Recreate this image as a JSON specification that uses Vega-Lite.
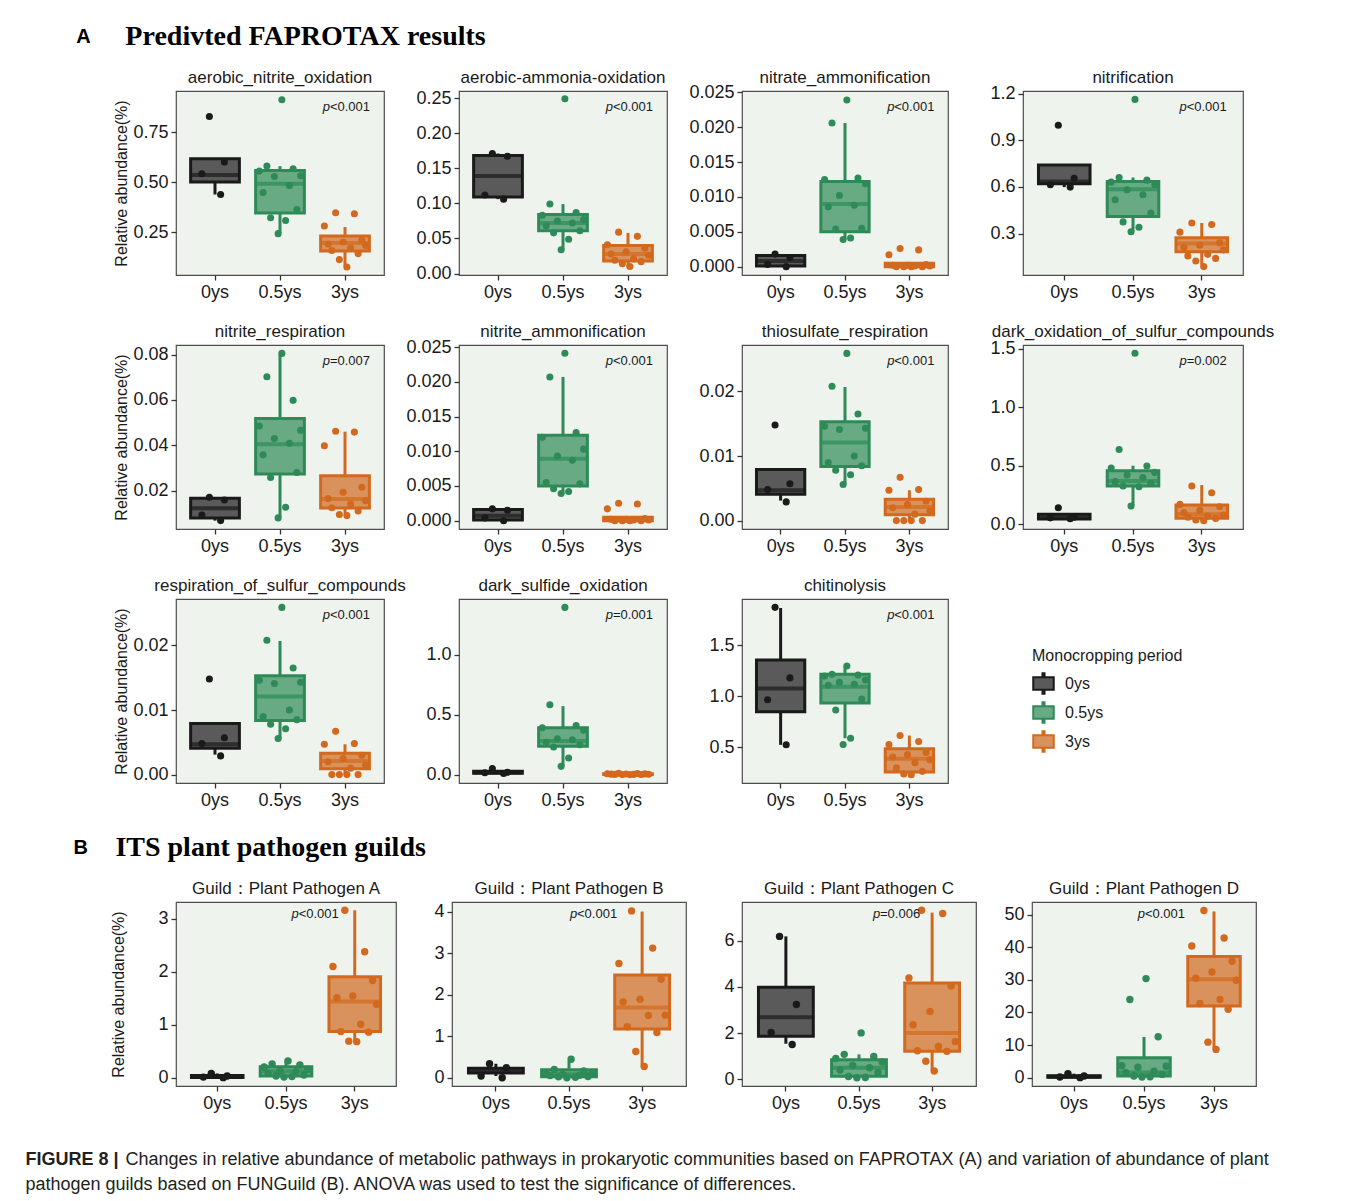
{
"$schema":"https://vega.github.io/schema/vega-lite/v6.json",
"background":"white",
"padding":{"left":25,"top":23,"right":5,"bottom":5},
"title":{"text":"FIGURE 8 |","subtitle":["\u200b\u00a0\u00a0\u00a0\u00a0\u00a0\u00a0\u00a0\u00a0\u00a0\u00a0\u00a0\u00a0\u00a0\u00a0\u00a0\u00a0\u00a0\u00a0\u00a0\u00a0Changes in relative abundance of metabolic pathways in prokaryotic communities based on FAPROTAX (A) and variation of abundance of plant","pathogen guilds based on FUNGuild (B). ANOVA was used to test the significance of differences."],"orient":"bottom","anchor":"start","dx":-48,"offset":38,"font":"Liberation Sans","fontSize":18,"fontWeight":"bold","color":"#231F20","subtitleFont":"Liberation Sans","subtitleFontSize":18,"subtitleFontWeight":"normal","subtitleColor":"#231F20","subtitlePadding":-18,"subtitleLineHeight":25},
"datasets":{
"box":[
{"p":"P1","g":"0ys","lo":0.438,"q1":0.5,"md":0.535,"q3":0.617,"hi":0.617},
{"p":"P1","g":"0.5ys","lo":0.245,"q1":0.345,"md":0.492,"q3":0.558,"hi":0.58},
{"p":"P1","g":"3ys","lo":0.078,"q1":0.155,"md":0.195,"q3":0.23,"hi":0.275},
{"p":"P2","g":"0ys","lo":0.106,"q1":0.109,"md":0.139,"q3":0.168,"hi":0.171},
{"p":"P2","g":"0.5ys","lo":0.034,"q1":0.061,"md":0.072,"q3":0.084,"hi":0.099},
{"p":"P2","g":"3ys","lo":0.01,"q1":0.018,"md":0.028,"q3":0.04,"hi":0.058},
{"p":"P3","g":"0ys","lo":0,"q1":0.0001,"md":0.0008,"q3":0.0016,"hi":0.0018},
{"p":"P3","g":"0.5ys","lo":0.0039,"q1":0.005,"md":0.009,"q3":0.0122,"hi":0.0206},
{"p":"P3","g":"3ys","lo":0,"q1":0,"md":0.0001,"q3":0.0005,"hi":0.0005},
{"p":"P4","g":"0ys","lo":0.599,"q1":0.62,"md":0.635,"q3":0.742,"hi":0.742},
{"p":"P4","g":"0.5ys","lo":0.315,"q1":0.41,"md":0.586,"q3":0.635,"hi":0.661},
{"p":"P4","g":"3ys","lo":0.098,"q1":0.183,"md":0.236,"q3":0.273,"hi":0.368},
{"p":"P5","g":"0ys","lo":0.0068,"q1":0.008,"md":0.0122,"q3":0.0166,"hi":0.0171},
{"p":"P5","g":"0.5ys","lo":0.0083,"q1":0.0273,"md":0.0405,"q3":0.0518,"hi":0.08},
{"p":"P5","g":"3ys","lo":0.0098,"q1":0.0124,"md":0.0163,"q3":0.0266,"hi":0.046},
{"p":"P6","g":"0ys","lo":0,"q1":0.0001,"md":0.0007,"q3":0.0016,"hi":0.0017},
{"p":"P6","g":"0.5ys","lo":0.0039,"q1":0.005,"md":0.0089,"q3":0.0123,"hi":0.0207},
{"p":"P6","g":"3ys","lo":0,"q1":0,"md":0.0001,"q3":0.0005,"hi":0.0005},
{"p":"P7","g":"0ys","lo":0.0031,"q1":0.0041,"md":0.0047,"q3":0.0079,"hi":0.0079},
{"p":"P7","g":"0.5ys","lo":0.0056,"q1":0.0084,"md":0.0121,"q3":0.0153,"hi":0.0207},
{"p":"P7","g":"3ys","lo":0,"q1":0.0009,"md":0.0021,"q3":0.0033,"hi":0.0047},
{"p":"P8","g":"0ys","lo":0.045,"q1":0.045,"md":0.058,"q3":0.085,"hi":0.085},
{"p":"P8","g":"0.5ys","lo":0.156,"q1":0.327,"md":0.37,"q3":0.457,"hi":0.5},
{"p":"P8","g":"3ys","lo":0.03,"q1":0.051,"md":0.085,"q3":0.165,"hi":0.335},
{"p":"P9","g":"0ys","lo":0.0031,"q1":0.0041,"md":0.0047,"q3":0.0079,"hi":0.0079},
{"p":"P9","g":"0.5ys","lo":0.0056,"q1":0.0084,"md":0.0121,"q3":0.0153,"hi":0.0207},
{"p":"P9","g":"3ys","lo":0,"q1":0.0009,"md":0.0021,"q3":0.0033,"hi":0.0047},
{"p":"P10","g":"0ys","lo":0.01,"q1":0.012,"md":0.018,"q3":0.028,"hi":0.028},
{"p":"P10","g":"0.5ys","lo":0.07,"q1":0.236,"md":0.28,"q3":0.392,"hi":0.572},
{"p":"P10","g":"3ys","lo":0,"q1":0.002,"md":0.004,"q3":0.007,"hi":0.012},
{"p":"P11","g":"0ys","lo":0.526,"q1":0.851,"md":1.078,"q3":1.357,"hi":1.867},
{"p":"P11","g":"0.5ys","lo":0.59,"q1":0.935,"md":1.094,"q3":1.218,"hi":1.299},
{"p":"P11","g":"3ys","lo":0.234,"q1":0.26,"md":0.39,"q3":0.487,"hi":0.617},
{"p":"P12","g":"0ys","lo":0,"q1":0.005,"md":0.02,"q3":0.04,"hi":0.08},
{"p":"P12","g":"0.5ys","lo":0.01,"q1":0.03,"md":0.12,"q3":0.208,"hi":0.315},
{"p":"P12","g":"3ys","lo":0.68,"q1":0.87,"md":1.437,"q3":1.909,"hi":3.163},
{"p":"P13","g":"0ys","lo":0.04,"q1":0.11,"md":0.18,"q3":0.23,"hi":0.335},
{"p":"P13","g":"0.5ys","lo":0,"q1":0.02,"md":0.08,"q3":0.19,"hi":0.4},
{"p":"P13","g":"3ys","lo":0.27,"q1":1.17,"md":1.69,"q3":2.47,"hi":4.0},
{"p":"P14","g":"0ys","lo":1.54,"q1":1.87,"md":2.69,"q3":3.99,"hi":6.19},
{"p":"P14","g":"0.5ys","lo":0.07,"q1":0.13,"md":0.5,"q3":0.85,"hi":1.08},
{"p":"P14","g":"3ys","lo":0.39,"q1":1.22,"md":2.01,"q3":4.17,"hi":7.22},
{"p":"P15","g":"0ys","lo":0,"q1":0.1,"md":0.3,"q3":0.6,"hi":1.22},
{"p":"P15","g":"0.5ys","lo":0.2,"q1":0.5,"md":1.6,"q3":6.1,"hi":12.5},
{"p":"P15","g":"3ys","lo":9.0,"q1":22.0,"md":30.2,"q3":37.2,"hi":51.0}
],
"pts":[
{"p":"P1","g":"0ys","v":0.828,"r":5},{"p":"P1","g":"0ys","v":0.6,"r":9},{"p":"P1","g":"0ys","v":0.542,"r":3},{"p":"P1","g":"0ys","v":0.438,"r":8},
{"p":"P1","g":"0.5ys","v":0.912,"r":7},{"p":"P1","g":"0.5ys","v":0.58,"r":3},{"p":"P1","g":"0.5ys","v":0.567,"r":10},{"p":"P1","g":"0.5ys","v":0.555,"r":1},{"p":"P1","g":"0.5ys","v":0.532,"r":12},{"p":"P1","g":"0.5ys","v":0.528,"r":5},{"p":"P1","g":"0.5ys","v":0.483,"r":9},{"p":"P1","g":"0.5ys","v":0.448,"r":2},{"p":"P1","g":"0.5ys","v":0.363,"r":11},{"p":"P1","g":"0.5ys","v":0.322,"r":4},{"p":"P1","g":"0.5ys","v":0.308,"r":8},{"p":"P1","g":"0.5ys","v":0.242,"r":6},
{"p":"P1","g":"3ys","v":0.347,"r":4},{"p":"P1","g":"3ys","v":0.342,"r":9},{"p":"P1","g":"3ys","v":0.28,"r":1},{"p":"P1","g":"3ys","v":0.21,"r":11},{"p":"P1","g":"3ys","v":0.2,"r":6},{"p":"P1","g":"3ys","v":0.19,"r":2},{"p":"P1","g":"3ys","v":0.183,"r":12},{"p":"P1","g":"3ys","v":0.17,"r":8},{"p":"P1","g":"3ys","v":0.158,"r":3},{"p":"P1","g":"3ys","v":0.142,"r":10},{"p":"P1","g":"3ys","v":0.112,"r":5},{"p":"P1","g":"3ys","v":0.075,"r":7},
{"p":"P2","g":"0ys","v":0.171,"r":5},{"p":"P2","g":"0ys","v":0.167,"r":9},{"p":"P2","g":"0ys","v":0.112,"r":3},{"p":"P2","g":"0ys","v":0.106,"r":8},
{"p":"P2","g":"0.5ys","v":0.249,"r":7},{"p":"P2","g":"0.5ys","v":0.099,"r":3},{"p":"P2","g":"0.5ys","v":0.087,"r":10},{"p":"P2","g":"0.5ys","v":0.083,"r":1},{"p":"P2","g":"0.5ys","v":0.077,"r":12},{"p":"P2","g":"0.5ys","v":0.075,"r":5},{"p":"P2","g":"0.5ys","v":0.072,"r":9},{"p":"P2","g":"0.5ys","v":0.068,"r":2},{"p":"P2","g":"0.5ys","v":0.061,"r":11},{"p":"P2","g":"0.5ys","v":0.058,"r":4},{"p":"P2","g":"0.5ys","v":0.049,"r":8},{"p":"P2","g":"0.5ys","v":0.034,"r":6},
{"p":"P2","g":"3ys","v":0.059,"r":4},{"p":"P2","g":"3ys","v":0.053,"r":9},{"p":"P2","g":"3ys","v":0.041,"r":1},{"p":"P2","g":"3ys","v":0.036,"r":11},{"p":"P2","g":"3ys","v":0.031,"r":6},{"p":"P2","g":"3ys","v":0.028,"r":2},{"p":"P2","g":"3ys","v":0.026,"r":12},{"p":"P2","g":"3ys","v":0.021,"r":8},{"p":"P2","g":"3ys","v":0.019,"r":3},{"p":"P2","g":"3ys","v":0.017,"r":10},{"p":"P2","g":"3ys","v":0.014,"r":5},{"p":"P2","g":"3ys","v":0.01,"r":7},
{"p":"P3","g":"0ys","v":0.0018,"r":5},{"p":"P3","g":"0ys","v":0.0013,"r":9},{"p":"P3","g":"0ys","v":0.0003,"r":3},{"p":"P3","g":"0ys","v":0,"r":8},
{"p":"P3","g":"0.5ys","v":0.0239,"r":7},{"p":"P3","g":"0.5ys","v":0.0206,"r":3},{"p":"P3","g":"0.5ys","v":0.0127,"r":10},{"p":"P3","g":"0.5ys","v":0.0125,"r":1},{"p":"P3","g":"0.5ys","v":0.0119,"r":12},{"p":"P3","g":"0.5ys","v":0.0102,"r":5},{"p":"P3","g":"0.5ys","v":0.0088,"r":9},{"p":"P3","g":"0.5ys","v":0.0086,"r":2},{"p":"P3","g":"0.5ys","v":0.0055,"r":11},{"p":"P3","g":"0.5ys","v":0.0054,"r":4},{"p":"P3","g":"0.5ys","v":0.0041,"r":8},{"p":"P3","g":"0.5ys","v":0.0039,"r":6},
{"p":"P3","g":"3ys","v":0.0026,"r":4},{"p":"P3","g":"3ys","v":0.0024,"r":9},{"p":"P3","g":"3ys","v":0.0017,"r":1},{"p":"P3","g":"3ys","v":0.0003,"r":11},{"p":"P3","g":"3ys","v":0.0002,"r":6},{"p":"P3","g":"3ys","v":0.0002,"r":2},{"p":"P3","g":"3ys","v":0.0001,"r":12},{"p":"P3","g":"3ys","v":0.0001,"r":8},{"p":"P3","g":"3ys","v":0,"r":3},{"p":"P3","g":"3ys","v":0,"r":10},{"p":"P3","g":"3ys","v":0,"r":5},{"p":"P3","g":"3ys","v":0,"r":7},
{"p":"P4","g":"0ys","v":0.997,"r":5},{"p":"P4","g":"0ys","v":0.656,"r":9},{"p":"P4","g":"0ys","v":0.614,"r":3},{"p":"P4","g":"0ys","v":0.599,"r":8},
{"p":"P4","g":"0.5ys","v":1.164,"r":7},{"p":"P4","g":"0.5ys","v":0.661,"r":3},{"p":"P4","g":"0.5ys","v":0.644,"r":10},{"p":"P4","g":"0.5ys","v":0.631,"r":1},{"p":"P4","g":"0.5ys","v":0.614,"r":12},{"p":"P4","g":"0.5ys","v":0.582,"r":5},{"p":"P4","g":"0.5ys","v":0.55,"r":9},{"p":"P4","g":"0.5ys","v":0.518,"r":2},{"p":"P4","g":"0.5ys","v":0.432,"r":11},{"p":"P4","g":"0.5ys","v":0.375,"r":4},{"p":"P4","g":"0.5ys","v":0.341,"r":8},{"p":"P4","g":"0.5ys","v":0.311,"r":6},
{"p":"P4","g":"3ys","v":0.368,"r":4},{"p":"P4","g":"3ys","v":0.358,"r":9},{"p":"P4","g":"3ys","v":0.309,"r":1},{"p":"P4","g":"3ys","v":0.24,"r":11},{"p":"P4","g":"3ys","v":0.225,"r":6},{"p":"P4","g":"3ys","v":0.21,"r":2},{"p":"P4","g":"3ys","v":0.195,"r":12},{"p":"P4","g":"3ys","v":0.166,"r":8},{"p":"P4","g":"3ys","v":0.155,"r":3},{"p":"P4","g":"3ys","v":0.14,"r":10},{"p":"P4","g":"3ys","v":0.123,"r":5},{"p":"P4","g":"3ys","v":0.087,"r":7},
{"p":"P5","g":"0ys","v":0.0171,"r":5},{"p":"P5","g":"0ys","v":0.0159,"r":9},{"p":"P5","g":"0ys","v":0.0093,"r":3},{"p":"P5","g":"0ys","v":0.0068,"r":8},
{"p":"P5","g":"0.5ys","v":0.0805,"r":7},{"p":"P5","g":"0.5ys","v":0.0702,"r":3},{"p":"P5","g":"0.5ys","v":0.0598,"r":10},{"p":"P5","g":"0.5ys","v":0.0485,"r":1},{"p":"P5","g":"0.5ys","v":0.0466,"r":12},{"p":"P5","g":"0.5ys","v":0.043,"r":5},{"p":"P5","g":"0.5ys","v":0.0409,"r":9},{"p":"P5","g":"0.5ys","v":0.0358,"r":2},{"p":"P5","g":"0.5ys","v":0.028,"r":11},{"p":"P5","g":"0.5ys","v":0.0258,"r":4},{"p":"P5","g":"0.5ys","v":0.0127,"r":8},{"p":"P5","g":"0.5ys","v":0.008,"r":6},
{"p":"P5","g":"3ys","v":0.0462,"r":4},{"p":"P5","g":"3ys","v":0.0458,"r":9},{"p":"P5","g":"3ys","v":0.0398,"r":1},{"p":"P5","g":"3ys","v":0.0215,"r":11},{"p":"P5","g":"3ys","v":0.0193,"r":6},{"p":"P5","g":"3ys","v":0.0165,"r":2},{"p":"P5","g":"3ys","v":0.0155,"r":12},{"p":"P5","g":"3ys","v":0.0141,"r":8},{"p":"P5","g":"3ys","v":0.0125,"r":3},{"p":"P5","g":"3ys","v":0.011,"r":10},{"p":"P5","g":"3ys","v":0.0095,"r":5},{"p":"P5","g":"3ys","v":0.009,"r":7},
{"p":"P6","g":"0ys","v":0.0017,"r":5},{"p":"P6","g":"0ys","v":0.0015,"r":9},{"p":"P6","g":"0ys","v":0.0004,"r":3},{"p":"P6","g":"0ys","v":0,"r":8},
{"p":"P6","g":"0.5ys","v":0.0241,"r":7},{"p":"P6","g":"0.5ys","v":0.0207,"r":3},{"p":"P6","g":"0.5ys","v":0.0127,"r":10},{"p":"P6","g":"0.5ys","v":0.012,"r":1},{"p":"P6","g":"0.5ys","v":0.0103,"r":12},{"p":"P6","g":"0.5ys","v":0.0093,"r":5},{"p":"P6","g":"0.5ys","v":0.0087,"r":9},{"p":"P6","g":"0.5ys","v":0.0055,"r":2},{"p":"P6","g":"0.5ys","v":0.0053,"r":11},{"p":"P6","g":"0.5ys","v":0.0046,"r":4},{"p":"P6","g":"0.5ys","v":0.0042,"r":8},{"p":"P6","g":"0.5ys","v":0.0039,"r":6},
{"p":"P6","g":"3ys","v":0.0025,"r":4},{"p":"P6","g":"3ys","v":0.0024,"r":9},{"p":"P6","g":"3ys","v":0.0017,"r":1},{"p":"P6","g":"3ys","v":0.0003,"r":11},{"p":"P6","g":"3ys","v":0.0002,"r":6},{"p":"P6","g":"3ys","v":0.0002,"r":2},{"p":"P6","g":"3ys","v":0.0001,"r":12},{"p":"P6","g":"3ys","v":0.0001,"r":8},{"p":"P6","g":"3ys","v":0,"r":3},{"p":"P6","g":"3ys","v":0,"r":10},{"p":"P6","g":"3ys","v":0,"r":5},{"p":"P6","g":"3ys","v":0,"r":7},
{"p":"P7","g":"0ys","v":0.0148,"r":5},{"p":"P7","g":"0ys","v":0.0057,"r":9},{"p":"P7","g":"0ys","v":0.0048,"r":3},{"p":"P7","g":"0ys","v":0.0029,"r":8},
{"p":"P7","g":"0.5ys","v":0.0259,"r":7},{"p":"P7","g":"0.5ys","v":0.0208,"r":3},{"p":"P7","g":"0.5ys","v":0.0165,"r":10},{"p":"P7","g":"0.5ys","v":0.0146,"r":1},{"p":"P7","g":"0.5ys","v":0.0143,"r":12},{"p":"P7","g":"0.5ys","v":0.0141,"r":5},{"p":"P7","g":"0.5ys","v":0.01,"r":9},{"p":"P7","g":"0.5ys","v":0.009,"r":2},{"p":"P7","g":"0.5ys","v":0.0085,"r":11},{"p":"P7","g":"0.5ys","v":0.0078,"r":4},{"p":"P7","g":"0.5ys","v":0.0071,"r":8},{"p":"P7","g":"0.5ys","v":0.0056,"r":6},
{"p":"P7","g":"3ys","v":0.0067,"r":4},{"p":"P7","g":"3ys","v":0.0048,"r":9},{"p":"P7","g":"3ys","v":0.0047,"r":1},{"p":"P7","g":"3ys","v":0.003,"r":11},{"p":"P7","g":"3ys","v":0.0025,"r":6},{"p":"P7","g":"3ys","v":0.002,"r":2},{"p":"P7","g":"3ys","v":0.0015,"r":12},{"p":"P7","g":"3ys","v":0.001,"r":8},{"p":"P7","g":"3ys","v":0,"r":3},{"p":"P7","g":"3ys","v":0,"r":10},{"p":"P7","g":"3ys","v":0,"r":5},{"p":"P7","g":"3ys","v":0,"r":7},
{"p":"P8","g":"0ys","v":0.142,"r":5},{"p":"P8","g":"0ys","v":0.06,"r":9},{"p":"P8","g":"0ys","v":0.055,"r":3},{"p":"P8","g":"0ys","v":0.048,"r":8},
{"p":"P8","g":"0.5ys","v":1.46,"r":7},{"p":"P8","g":"0.5ys","v":0.639,"r":3},{"p":"P8","g":"0.5ys","v":0.497,"r":10},{"p":"P8","g":"0.5ys","v":0.48,"r":1},{"p":"P8","g":"0.5ys","v":0.443,"r":12},{"p":"P8","g":"0.5ys","v":0.42,"r":5},{"p":"P8","g":"0.5ys","v":0.4,"r":9},{"p":"P8","g":"0.5ys","v":0.364,"r":2},{"p":"P8","g":"0.5ys","v":0.35,"r":11},{"p":"P8","g":"0.5ys","v":0.327,"r":4},{"p":"P8","g":"0.5ys","v":0.32,"r":8},{"p":"P8","g":"0.5ys","v":0.156,"r":6},
{"p":"P8","g":"3ys","v":0.327,"r":4},{"p":"P8","g":"3ys","v":0.27,"r":9},{"p":"P8","g":"3ys","v":0.17,"r":1},{"p":"P8","g":"3ys","v":0.15,"r":11},{"p":"P8","g":"3ys","v":0.12,"r":6},{"p":"P8","g":"3ys","v":0.1,"r":2},{"p":"P8","g":"3ys","v":0.08,"r":12},{"p":"P8","g":"3ys","v":0.07,"r":8},{"p":"P8","g":"3ys","v":0.06,"r":3},{"p":"P8","g":"3ys","v":0.05,"r":10},{"p":"P8","g":"3ys","v":0.037,"r":5},{"p":"P8","g":"3ys","v":0.03,"r":7},
{"p":"P9","g":"0ys","v":0.0148,"r":5},{"p":"P9","g":"0ys","v":0.0057,"r":9},{"p":"P9","g":"0ys","v":0.0048,"r":3},{"p":"P9","g":"0ys","v":0.0029,"r":8},
{"p":"P9","g":"0.5ys","v":0.0259,"r":7},{"p":"P9","g":"0.5ys","v":0.0208,"r":3},{"p":"P9","g":"0.5ys","v":0.0165,"r":10},{"p":"P9","g":"0.5ys","v":0.0146,"r":1},{"p":"P9","g":"0.5ys","v":0.0143,"r":12},{"p":"P9","g":"0.5ys","v":0.0141,"r":5},{"p":"P9","g":"0.5ys","v":0.01,"r":9},{"p":"P9","g":"0.5ys","v":0.009,"r":2},{"p":"P9","g":"0.5ys","v":0.0085,"r":11},{"p":"P9","g":"0.5ys","v":0.0078,"r":4},{"p":"P9","g":"0.5ys","v":0.0071,"r":8},{"p":"P9","g":"0.5ys","v":0.0056,"r":6},
{"p":"P9","g":"3ys","v":0.0067,"r":4},{"p":"P9","g":"3ys","v":0.0048,"r":9},{"p":"P9","g":"3ys","v":0.0047,"r":1},{"p":"P9","g":"3ys","v":0.003,"r":11},{"p":"P9","g":"3ys","v":0.0025,"r":6},{"p":"P9","g":"3ys","v":0.002,"r":2},{"p":"P9","g":"3ys","v":0.0015,"r":12},{"p":"P9","g":"3ys","v":0.001,"r":8},{"p":"P9","g":"3ys","v":0,"r":3},{"p":"P9","g":"3ys","v":0,"r":10},{"p":"P9","g":"3ys","v":0,"r":5},{"p":"P9","g":"3ys","v":0,"r":7},
{"p":"P10","g":"0ys","v":0.05,"r":5},{"p":"P10","g":"0ys","v":0.02,"r":9},{"p":"P10","g":"0ys","v":0.015,"r":3},{"p":"P10","g":"0ys","v":0.01,"r":8},
{"p":"P10","g":"0.5ys","v":1.397,"r":7},{"p":"P10","g":"0.5ys","v":0.583,"r":3},{"p":"P10","g":"0.5ys","v":0.411,"r":10},{"p":"P10","g":"0.5ys","v":0.392,"r":1},{"p":"P10","g":"0.5ys","v":0.37,"r":12},{"p":"P10","g":"0.5ys","v":0.3,"r":5},{"p":"P10","g":"0.5ys","v":0.292,"r":9},{"p":"P10","g":"0.5ys","v":0.27,"r":2},{"p":"P10","g":"0.5ys","v":0.25,"r":11},{"p":"P10","g":"0.5ys","v":0.231,"r":4},{"p":"P10","g":"0.5ys","v":0.139,"r":8},{"p":"P10","g":"0.5ys","v":0.069,"r":6},
{"p":"P10","g":"3ys","v":0.012,"r":4},{"p":"P10","g":"3ys","v":0.01,"r":9},{"p":"P10","g":"3ys","v":0.008,"r":1},{"p":"P10","g":"3ys","v":0.006,"r":11},{"p":"P10","g":"3ys","v":0.005,"r":6},{"p":"P10","g":"3ys","v":0.004,"r":2},{"p":"P10","g":"3ys","v":0.003,"r":12},{"p":"P10","g":"3ys","v":0.002,"r":8},{"p":"P10","g":"3ys","v":0.002,"r":3},{"p":"P10","g":"3ys","v":0.001,"r":10},{"p":"P10","g":"3ys","v":0,"r":5},{"p":"P10","g":"3ys","v":0,"r":7},
{"p":"P11","g":"0ys","v":1.873,"r":5},{"p":"P11","g":"0ys","v":1.182,"r":9},{"p":"P11","g":"0ys","v":0.968,"r":3},{"p":"P11","g":"0ys","v":0.526,"r":8},
{"p":"P11","g":"0.5ys","v":1.299,"r":7},{"p":"P11","g":"0.5ys","v":1.218,"r":3},{"p":"P11","g":"0.5ys","v":1.21,"r":10},{"p":"P11","g":"0.5ys","v":1.2,"r":1},{"p":"P11","g":"0.5ys","v":1.162,"r":12},{"p":"P11","g":"0.5ys","v":1.14,"r":5},{"p":"P11","g":"0.5ys","v":1.12,"r":9},{"p":"P11","g":"0.5ys","v":1.11,"r":2},{"p":"P11","g":"0.5ys","v":0.974,"r":11},{"p":"P11","g":"0.5ys","v":0.867,"r":4},{"p":"P11","g":"0.5ys","v":0.591,"r":8},{"p":"P11","g":"0.5ys","v":0.529,"r":6},
{"p":"P11","g":"3ys","v":0.617,"r":4},{"p":"P11","g":"3ys","v":0.558,"r":9},{"p":"P11","g":"3ys","v":0.53,"r":1},{"p":"P11","g":"3ys","v":0.45,"r":11},{"p":"P11","g":"3ys","v":0.43,"r":6},{"p":"P11","g":"3ys","v":0.406,"r":2},{"p":"P11","g":"3ys","v":0.38,"r":12},{"p":"P11","g":"3ys","v":0.35,"r":8},{"p":"P11","g":"3ys","v":0.3,"r":3},{"p":"P11","g":"3ys","v":0.266,"r":10},{"p":"P11","g":"3ys","v":0.24,"r":5},{"p":"P11","g":"3ys","v":0.234,"r":7},
{"p":"P12","g":"0ys","v":0.08,"r":5},{"p":"P12","g":"0ys","v":0.03,"r":9},{"p":"P12","g":"0ys","v":0.01,"r":3},{"p":"P12","g":"0ys","v":0,"r":8},
{"p":"P12","g":"0.5ys","v":0.315,"r":7},{"p":"P12","g":"0.5ys","v":0.258,"r":3},{"p":"P12","g":"0.5ys","v":0.24,"r":10},{"p":"P12","g":"0.5ys","v":0.2,"r":1},{"p":"P12","g":"0.5ys","v":0.16,"r":12},{"p":"P12","g":"0.5ys","v":0.13,"r":5},{"p":"P12","g":"0.5ys","v":0.11,"r":9},{"p":"P12","g":"0.5ys","v":0.08,"r":2},{"p":"P12","g":"0.5ys","v":0.05,"r":11},{"p":"P12","g":"0.5ys","v":0.03,"r":4},{"p":"P12","g":"0.5ys","v":0.02,"r":8},{"p":"P12","g":"0.5ys","v":0.01,"r":6},
{"p":"P12","g":"3ys","v":3.163,"r":4},{"p":"P12","g":"3ys","v":2.38,"r":9},{"p":"P12","g":"3ys","v":2.1,"r":1},{"p":"P12","g":"3ys","v":1.834,"r":11},{"p":"P12","g":"3ys","v":1.544,"r":6},{"p":"P12","g":"3ys","v":1.51,"r":2},{"p":"P12","g":"3ys","v":1.386,"r":12},{"p":"P12","g":"3ys","v":1.008,"r":8},{"p":"P12","g":"3ys","v":0.87,"r":3},{"p":"P12","g":"3ys","v":0.86,"r":10},{"p":"P12","g":"3ys","v":0.69,"r":5},{"p":"P12","g":"3ys","v":0.68,"r":7},
{"p":"P13","g":"0ys","v":0.335,"r":5},{"p":"P13","g":"0ys","v":0.24,"r":9},{"p":"P13","g":"0ys","v":0.04,"r":3},{"p":"P13","g":"0ys","v":0,"r":8},
{"p":"P13","g":"0.5ys","v":0.446,"r":7},{"p":"P13","g":"0.5ys","v":0.2,"r":3},{"p":"P13","g":"0.5ys","v":0.16,"r":10},{"p":"P13","g":"0.5ys","v":0.12,"r":1},{"p":"P13","g":"0.5ys","v":0.1,"r":12},{"p":"P13","g":"0.5ys","v":0.08,"r":5},{"p":"P13","g":"0.5ys","v":0.06,"r":9},{"p":"P13","g":"0.5ys","v":0.05,"r":2},{"p":"P13","g":"0.5ys","v":0.03,"r":11},{"p":"P13","g":"0.5ys","v":0.02,"r":4},{"p":"P13","g":"0.5ys","v":0.01,"r":8},{"p":"P13","g":"0.5ys","v":0,"r":6},
{"p":"P13","g":"3ys","v":4.016,"r":4},{"p":"P13","g":"3ys","v":3.12,"r":9},{"p":"P13","g":"3ys","v":2.75,"r":1},{"p":"P13","g":"3ys","v":2.37,"r":11},{"p":"P13","g":"3ys","v":1.89,"r":6},{"p":"P13","g":"3ys","v":1.825,"r":2},{"p":"P13","g":"3ys","v":1.506,"r":12},{"p":"P13","g":"3ys","v":1.5,"r":8},{"p":"P13","g":"3ys","v":1.227,"r":3},{"p":"P13","g":"3ys","v":1.09,"r":10},{"p":"P13","g":"3ys","v":0.63,"r":5},{"p":"P13","g":"3ys","v":0.27,"r":7},
{"p":"P14","g":"0ys","v":6.19,"r":5},{"p":"P14","g":"0ys","v":3.24,"r":9},{"p":"P14","g":"0ys","v":2.03,"r":3},{"p":"P14","g":"0ys","v":1.51,"r":8},
{"p":"P14","g":"0.5ys","v":2.01,"r":7},{"p":"P14","g":"0.5ys","v":1.08,"r":3},{"p":"P14","g":"0.5ys","v":0.99,"r":10},{"p":"P14","g":"0.5ys","v":0.9,"r":1},{"p":"P14","g":"0.5ys","v":0.75,"r":12},{"p":"P14","g":"0.5ys","v":0.6,"r":5},{"p":"P14","g":"0.5ys","v":0.5,"r":9},{"p":"P14","g":"0.5ys","v":0.4,"r":2},{"p":"P14","g":"0.5ys","v":0.3,"r":11},{"p":"P14","g":"0.5ys","v":0.12,"r":4},{"p":"P14","g":"0.5ys","v":0.08,"r":8},{"p":"P14","g":"0.5ys","v":0.07,"r":6},
{"p":"P14","g":"3ys","v":7.32,"r":4},{"p":"P14","g":"3ys","v":7.18,"r":9},{"p":"P14","g":"3ys","v":4.39,"r":1},{"p":"P14","g":"3ys","v":4.04,"r":11},{"p":"P14","g":"3ys","v":2.94,"r":6},{"p":"P14","g":"3ys","v":2.36,"r":2},{"p":"P14","g":"3ys","v":1.64,"r":12},{"p":"P14","g":"3ys","v":1.42,"r":8},{"p":"P14","g":"3ys","v":1.24,"r":3},{"p":"P14","g":"3ys","v":1.21,"r":10},{"p":"P14","g":"3ys","v":0.78,"r":5},{"p":"P14","g":"3ys","v":0.36,"r":7},
{"p":"P15","g":"0ys","v":1.22,"r":5},{"p":"P15","g":"0ys","v":0.5,"r":9},{"p":"P15","g":"0ys","v":0.2,"r":3},{"p":"P15","g":"0ys","v":0,"r":8},
{"p":"P15","g":"0.5ys","v":30.4,"r":7},{"p":"P15","g":"0.5ys","v":24.0,"r":3},{"p":"P15","g":"0.5ys","v":12.55,"r":10},{"p":"P15","g":"0.5ys","v":3.67,"r":1},{"p":"P15","g":"0.5ys","v":3.5,"r":12},{"p":"P15","g":"0.5ys","v":3.2,"r":5},{"p":"P15","g":"0.5ys","v":2.0,"r":9},{"p":"P15","g":"0.5ys","v":1.5,"r":2},{"p":"P15","g":"0.5ys","v":1.0,"r":11},{"p":"P15","g":"0.5ys","v":0.5,"r":4},{"p":"P15","g":"0.5ys","v":0.3,"r":8},{"p":"P15","g":"0.5ys","v":0.2,"r":6},
{"p":"P15","g":"3ys","v":51.3,"r":4},{"p":"P15","g":"3ys","v":42.86,"r":9},{"p":"P15","g":"3ys","v":40.4,"r":1},{"p":"P15","g":"3ys","v":35.7,"r":11},{"p":"P15","g":"3ys","v":32.4,"r":6},{"p":"P15","g":"3ys","v":30.5,"r":2},{"p":"P15","g":"3ys","v":29.9,"r":12},{"p":"P15","g":"3ys","v":23.98,"r":8},{"p":"P15","g":"3ys","v":22.76,"r":3},{"p":"P15","g":"3ys","v":21.0,"r":10},{"p":"P15","g":"3ys","v":10.9,"r":5},{"p":"P15","g":"3ys","v":8.67,"r":7}
]
},
"concat":[
{
"title":{"text":"A","subtitle":"\u200b\u00a0\u00a0\u00a0\u00a0\u00a0\u00a0\u00a0Predivted FAPROTAX results","anchor":"start","dx":-37,"offset":13,"font":"Liberation Sans","fontSize":20,"fontWeight":"bold","color":"#000000","subtitleFont":"Liberation Serif","subtitleFontSize":28,"subtitleFontWeight":"bold","subtitleColor":"#000000","subtitlePadding":-24},
"columns":4,"bounds":"flush","align":"each","spacing":{"row":70,"column":75},
"concat":[
{"width":208,"height":184,"title":"aerobic_nitrite_oxidation","resolve":{"scale":{"xOffset":"independent"}},
"encoding":{"x":{"field":"g","type":"nominal","scale":{"domain":["0ys","0.5ys","3ys"],"paddingInner":0.25,"paddingOuter":0.225},"title":null}},
"layer":[
{"data":{"name":"box"},"transform":[{"filter":"datum.p=='P1'"}],"mark":{"type":"rule","strokeWidth":3},"encoding":{"y":{"field":"lo","type":"quantitative","scale":{"domain":[0.035,0.956],"nice":false,"zero":false},"axis":{"values":[0.25,0.5,0.75],"format":".2f","labelOverlap":false,"tickCount":20},"title":"Relative abundance(%)"},"y2":{"field":"hi"},"color":{"field":"g","type":"nominal","scale":{"domain":["0ys","0.5ys","3ys","-"]},"legend":null}}},
{"data":{"name":"box"},"transform":[{"filter":"datum.p=='P1'"}],"mark":{"type":"bar","strokeWidth":3},"encoding":{"y":{"field":"q1","type":"quantitative","scale":{"domain":[0.035,0.956],"nice":false,"zero":false},"title":"Relative abundance(%)"},"y2":{"field":"q3"},"fill":{"field":"g","type":"nominal","scale":{"domain":["0ys","0.5ys","3ys"],"range":["#5A5A5A","#67AA84","#DA925C"]},"title":"Monocropping period"},"stroke":{"field":"g","type":"nominal","scale":{"domain":["0ys","0.5ys","3ys"]},"title":"Monocropping period"}}},
{"data":{"name":"box"},"transform":[{"filter":"datum.p=='P1'"}],"mark":{"type":"tick","thickness":4},"encoding":{"y":{"field":"md","type":"quantitative","scale":{"domain":[0.035,0.956],"nice":false,"zero":false},"title":"Relative abundance(%)"},"color":{"field":"g","type":"nominal","scale":{"domain":["0ys","0.5ys","3ys","-"]},"legend":null}}},
{"data":{"name":"pts"},"transform":[{"filter":"datum.p=='P1'"}],"mark":{"type":"circle","size":50,"opacity":1},"encoding":{"y":{"field":"v","type":"quantitative","scale":{"domain":[0.035,0.956],"nice":false,"zero":false},"title":"Relative abundance(%)"},"xOffset":{"field":"r","type":"ordinal","scale":{"type":"point","padding":4.85,"domain":[1,2,3,4,5,6,7,8,9,10,11,12]}},"color":{"field":"g","type":"nominal","scale":{"domain":["0ys","0.5ys","3ys","-"]},"legend":null}}},
{"data":{"values":[{}]},"mark":{"type":"text","align":"right","baseline":"middle","dx":25,"fontSize":13,"color":"#1A1A1A"},"encoding":{"x":{"datum":"3ys"},"y":{"datum":0.876,"type":"quantitative","scale":{"domain":[0.035,0.956],"nice":false,"zero":false}},"text":{"value":"<0.001"}}},
{"data":{"values":[{}]},"mark":{"type":"text","align":"right","baseline":"middle","dx":-15,"fontSize":13,"fontStyle":"italic","color":"#1A1A1A"},"encoding":{"x":{"datum":"3ys"},"y":{"datum":0.876,"type":"quantitative","scale":{"domain":[0.035,0.956],"nice":false,"zero":false}},"text":{"value":"p"}}}
]},
{"width":208,"height":184,"title":{"text":"aerobic-ammonia-oxidation","offset":2},"resolve":{"scale":{"xOffset":"independent"}},
"encoding":{"x":{"field":"g","type":"nominal","scale":{"domain":["0ys","0.5ys","3ys"],"paddingInner":0.25,"paddingOuter":0.225},"title":null}},
"layer":[
{"data":{"name":"box"},"transform":[{"filter":"datum.p=='P2'"}],"mark":{"type":"rule","strokeWidth":3},"encoding":{"y":{"field":"lo","type":"quantitative","scale":{"domain":[-0.002,0.26],"nice":false,"zero":false},"axis":{"values":[0,0.05,0.1,0.15,0.2,0.25],"format":".2f","labelOverlap":false,"tickCount":20},"title":null},"y2":{"field":"hi"},"color":{"field":"g","type":"nominal","scale":{"domain":["0ys","0.5ys","3ys","-"]},"legend":null}}},
{"data":{"name":"box"},"transform":[{"filter":"datum.p=='P2'"}],"mark":{"type":"bar","strokeWidth":3},"encoding":{"y":{"field":"q1","type":"quantitative","scale":{"domain":[-0.002,0.26],"nice":false,"zero":false},"title":null},"y2":{"field":"q3"},"fill":{"field":"g","type":"nominal","scale":{"domain":["0ys","0.5ys","3ys"],"range":["#5A5A5A","#67AA84","#DA925C"]},"title":"Monocropping period"},"stroke":{"field":"g","type":"nominal","scale":{"domain":["0ys","0.5ys","3ys"]},"title":"Monocropping period"}}},
{"data":{"name":"box"},"transform":[{"filter":"datum.p=='P2'"}],"mark":{"type":"tick","thickness":4},"encoding":{"y":{"field":"md","type":"quantitative","scale":{"domain":[-0.002,0.26],"nice":false,"zero":false},"title":null},"color":{"field":"g","type":"nominal","scale":{"domain":["0ys","0.5ys","3ys","-"]},"legend":null}}},
{"data":{"name":"pts"},"transform":[{"filter":"datum.p=='P2'"}],"mark":{"type":"circle","size":50,"opacity":1},"encoding":{"y":{"field":"v","type":"quantitative","scale":{"domain":[-0.002,0.26],"nice":false,"zero":false},"title":null},"xOffset":{"field":"r","type":"ordinal","scale":{"type":"point","padding":4.85,"domain":[1,2,3,4,5,6,7,8,9,10,11,12]}},"color":{"field":"g","type":"nominal","scale":{"domain":["0ys","0.5ys","3ys","-"]},"legend":null}}},
{"data":{"values":[{}]},"mark":{"type":"text","align":"right","baseline":"middle","dx":25,"fontSize":13,"color":"#1A1A1A"},"encoding":{"x":{"datum":"3ys"},"y":{"datum":0.237,"type":"quantitative","scale":{"domain":[-0.002,0.26],"nice":false,"zero":false}},"text":{"value":"<0.001"}}},
{"data":{"values":[{}]},"mark":{"type":"text","align":"right","baseline":"middle","dx":-15,"fontSize":13,"fontStyle":"italic","color":"#1A1A1A"},"encoding":{"x":{"datum":"3ys"},"y":{"datum":0.237,"type":"quantitative","scale":{"domain":[-0.002,0.26],"nice":false,"zero":false}},"text":{"value":"p"}}}
]},
{"width":206,"height":184,"title":{"text":"nitrate_ammonification","offset":-3.5},"resolve":{"scale":{"xOffset":"independent"}},
"encoding":{"x":{"field":"g","type":"nominal","scale":{"domain":["0ys","0.5ys","3ys"],"paddingInner":0.25,"paddingOuter":0.225},"title":null}},
"layer":[
{"data":{"name":"box"},"transform":[{"filter":"datum.p=='P3'"}],"mark":{"type":"rule","strokeWidth":3},"encoding":{"y":{"field":"lo","type":"quantitative","scale":{"domain":[-0.0012,0.0252],"nice":false,"zero":false},"axis":{"values":[0,0.005,0.01,0.015,0.02,0.025],"format":".3f","labelOverlap":false,"tickCount":20},"title":null},"y2":{"field":"hi"},"color":{"field":"g","type":"nominal","scale":{"domain":["0ys","0.5ys","3ys","-"]},"legend":null}}},
{"data":{"name":"box"},"transform":[{"filter":"datum.p=='P3'"}],"mark":{"type":"bar","strokeWidth":3},"encoding":{"y":{"field":"q1","type":"quantitative","scale":{"domain":[-0.0012,0.0252],"nice":false,"zero":false},"title":null},"y2":{"field":"q3"},"fill":{"field":"g","type":"nominal","scale":{"domain":["0ys","0.5ys","3ys"],"range":["#5A5A5A","#67AA84","#DA925C"]},"title":"Monocropping period"},"stroke":{"field":"g","type":"nominal","scale":{"domain":["0ys","0.5ys","3ys"]},"title":"Monocropping period"}}},
{"data":{"name":"box"},"transform":[{"filter":"datum.p=='P3'"}],"mark":{"type":"tick","thickness":4},"encoding":{"y":{"field":"md","type":"quantitative","scale":{"domain":[-0.0012,0.0252],"nice":false,"zero":false},"title":null},"color":{"field":"g","type":"nominal","scale":{"domain":["0ys","0.5ys","3ys","-"]},"legend":null}}},
{"data":{"name":"pts"},"transform":[{"filter":"datum.p=='P3'"}],"mark":{"type":"circle","size":50,"opacity":1},"encoding":{"y":{"field":"v","type":"quantitative","scale":{"domain":[-0.0012,0.0252],"nice":false,"zero":false},"title":null},"xOffset":{"field":"r","type":"ordinal","scale":{"type":"point","padding":4.85,"domain":[1,2,3,4,5,6,7,8,9,10,11,12]}},"color":{"field":"g","type":"nominal","scale":{"domain":["0ys","0.5ys","3ys","-"]},"legend":null}}},
{"data":{"values":[{}]},"mark":{"type":"text","align":"right","baseline":"middle","dx":25,"fontSize":13,"color":"#1A1A1A"},"encoding":{"x":{"datum":"3ys"},"y":{"datum":0.0229,"type":"quantitative","scale":{"domain":[-0.0012,0.0252],"nice":false,"zero":false}},"text":{"value":"<0.001"}}},
{"data":{"values":[{}]},"mark":{"type":"text","align":"right","baseline":"middle","dx":-15,"fontSize":13,"fontStyle":"italic","color":"#1A1A1A"},"encoding":{"x":{"datum":"3ys"},"y":{"datum":0.0229,"type":"quantitative","scale":{"domain":[-0.0012,0.0252],"nice":false,"zero":false}},"text":{"value":"p"}}}
]},
{"width":220,"height":184,"title":{"text":"nitrification","offset":-2},"resolve":{"scale":{"xOffset":"independent"}},
"encoding":{"x":{"field":"g","type":"nominal","scale":{"domain":["0ys","0.5ys","3ys"],"paddingInner":0.25,"paddingOuter":0.225},"title":null}},
"layer":[
{"data":{"name":"box"},"transform":[{"filter":"datum.p=='P4'"}],"mark":{"type":"rule","strokeWidth":3},"encoding":{"y":{"field":"lo","type":"quantitative","scale":{"domain":[0.033,1.218],"nice":false,"zero":false},"axis":{"values":[0.3,0.6,0.9,1.2],"format":".1f","labelOverlap":false,"tickCount":20},"title":null},"y2":{"field":"hi"},"color":{"field":"g","type":"nominal","scale":{"domain":["0ys","0.5ys","3ys","-"]},"legend":null}}},
{"data":{"name":"box"},"transform":[{"filter":"datum.p=='P4'"}],"mark":{"type":"bar","strokeWidth":3},"encoding":{"y":{"field":"q1","type":"quantitative","scale":{"domain":[0.033,1.218],"nice":false,"zero":false},"title":null},"y2":{"field":"q3"},"fill":{"field":"g","type":"nominal","scale":{"domain":["0ys","0.5ys","3ys"],"range":["#5A5A5A","#67AA84","#DA925C"]},"title":"Monocropping period"},"stroke":{"field":"g","type":"nominal","scale":{"domain":["0ys","0.5ys","3ys"]},"title":"Monocropping period"}}},
{"data":{"name":"box"},"transform":[{"filter":"datum.p=='P4'"}],"mark":{"type":"tick","thickness":4},"encoding":{"y":{"field":"md","type":"quantitative","scale":{"domain":[0.033,1.218],"nice":false,"zero":false},"title":null},"color":{"field":"g","type":"nominal","scale":{"domain":["0ys","0.5ys","3ys","-"]},"legend":null}}},
{"data":{"name":"pts"},"transform":[{"filter":"datum.p=='P4'"}],"mark":{"type":"circle","size":50,"opacity":1},"encoding":{"y":{"field":"v","type":"quantitative","scale":{"domain":[0.033,1.218],"nice":false,"zero":false},"title":null},"xOffset":{"field":"r","type":"ordinal","scale":{"type":"point","padding":4.85,"domain":[1,2,3,4,5,6,7,8,9,10,11,12]}},"color":{"field":"g","type":"nominal","scale":{"domain":["0ys","0.5ys","3ys","-"]},"legend":null}}},
{"data":{"values":[{}]},"mark":{"type":"text","align":"right","baseline":"middle","dx":25,"fontSize":13,"color":"#1A1A1A"},"encoding":{"x":{"datum":"3ys"},"y":{"datum":1.115,"type":"quantitative","scale":{"domain":[0.033,1.218],"nice":false,"zero":false}},"text":{"value":"<0.001"}}},
{"data":{"values":[{}]},"mark":{"type":"text","align":"right","baseline":"middle","dx":-15,"fontSize":13,"fontStyle":"italic","color":"#1A1A1A"},"encoding":{"x":{"datum":"3ys"},"y":{"datum":1.115,"type":"quantitative","scale":{"domain":[0.033,1.218],"nice":false,"zero":false}},"text":{"value":"p"}}}
]},
{"width":208,"height":184,"title":"nitrite_respiration","resolve":{"scale":{"xOffset":"independent"}},
"encoding":{"x":{"field":"g","type":"nominal","scale":{"domain":["0ys","0.5ys","3ys"],"paddingInner":0.25,"paddingOuter":0.225},"title":null}},
"layer":[
{"data":{"name":"box"},"transform":[{"filter":"datum.p=='P5'"}],"mark":{"type":"rule","strokeWidth":3},"encoding":{"y":{"field":"lo","type":"quantitative","scale":{"domain":[0.0031,0.0842],"nice":false,"zero":false},"axis":{"values":[0.02,0.04,0.06,0.08],"format":".2f","labelOverlap":false,"tickCount":20},"title":"Relative abundance(%)"},"y2":{"field":"hi"},"color":{"field":"g","type":"nominal","scale":{"domain":["0ys","0.5ys","3ys","-"]},"legend":null}}},
{"data":{"name":"box"},"transform":[{"filter":"datum.p=='P5'"}],"mark":{"type":"bar","strokeWidth":3},"encoding":{"y":{"field":"q1","type":"quantitative","scale":{"domain":[0.0031,0.0842],"nice":false,"zero":false},"title":"Relative abundance(%)"},"y2":{"field":"q3"},"fill":{"field":"g","type":"nominal","scale":{"domain":["0ys","0.5ys","3ys"],"range":["#5A5A5A","#67AA84","#DA925C"]},"title":"Monocropping period"},"stroke":{"field":"g","type":"nominal","scale":{"domain":["0ys","0.5ys","3ys"]},"title":"Monocropping period"}}},
{"data":{"name":"box"},"transform":[{"filter":"datum.p=='P5'"}],"mark":{"type":"tick","thickness":4},"encoding":{"y":{"field":"md","type":"quantitative","scale":{"domain":[0.0031,0.0842],"nice":false,"zero":false},"title":"Relative abundance(%)"},"color":{"field":"g","type":"nominal","scale":{"domain":["0ys","0.5ys","3ys","-"]},"legend":null}}},
{"data":{"name":"pts"},"transform":[{"filter":"datum.p=='P5'"}],"mark":{"type":"circle","size":50,"opacity":1},"encoding":{"y":{"field":"v","type":"quantitative","scale":{"domain":[0.0031,0.0842],"nice":false,"zero":false},"title":"Relative abundance(%)"},"xOffset":{"field":"r","type":"ordinal","scale":{"type":"point","padding":4.85,"domain":[1,2,3,4,5,6,7,8,9,10,11,12]}},"color":{"field":"g","type":"nominal","scale":{"domain":["0ys","0.5ys","3ys","-"]},"legend":null}}},
{"data":{"values":[{}]},"mark":{"type":"text","align":"right","baseline":"middle","dx":25,"fontSize":13,"color":"#1A1A1A"},"encoding":{"x":{"datum":"3ys"},"y":{"datum":0.0771,"type":"quantitative","scale":{"domain":[0.0031,0.0842],"nice":false,"zero":false}},"text":{"value":"=0.007"}}},
{"data":{"values":[{}]},"mark":{"type":"text","align":"right","baseline":"middle","dx":-15,"fontSize":13,"fontStyle":"italic","color":"#1A1A1A"},"encoding":{"x":{"datum":"3ys"},"y":{"datum":0.0771,"type":"quantitative","scale":{"domain":[0.0031,0.0842],"nice":false,"zero":false}},"text":{"value":"p"}}}
]},
{"width":208,"height":184,"title":{"text":"nitrite_ammonification","offset":-3},"resolve":{"scale":{"xOffset":"independent"}},
"encoding":{"x":{"field":"g","type":"nominal","scale":{"domain":["0ys","0.5ys","3ys"],"paddingInner":0.25,"paddingOuter":0.225},"title":null}},
"layer":[
{"data":{"name":"box"},"transform":[{"filter":"datum.p=='P6'"}],"mark":{"type":"rule","strokeWidth":3},"encoding":{"y":{"field":"lo","type":"quantitative","scale":{"domain":[-0.0012,0.0253],"nice":false,"zero":false},"axis":{"values":[0,0.005,0.01,0.015,0.02,0.025],"format":".3f","labelOverlap":false,"tickCount":20},"title":null},"y2":{"field":"hi"},"color":{"field":"g","type":"nominal","scale":{"domain":["0ys","0.5ys","3ys","-"]},"legend":null}}},
{"data":{"name":"box"},"transform":[{"filter":"datum.p=='P6'"}],"mark":{"type":"bar","strokeWidth":3},"encoding":{"y":{"field":"q1","type":"quantitative","scale":{"domain":[-0.0012,0.0253],"nice":false,"zero":false},"title":null},"y2":{"field":"q3"},"fill":{"field":"g","type":"nominal","scale":{"domain":["0ys","0.5ys","3ys"],"range":["#5A5A5A","#67AA84","#DA925C"]},"title":"Monocropping period"},"stroke":{"field":"g","type":"nominal","scale":{"domain":["0ys","0.5ys","3ys"]},"title":"Monocropping period"}}},
{"data":{"name":"box"},"transform":[{"filter":"datum.p=='P6'"}],"mark":{"type":"tick","thickness":4},"encoding":{"y":{"field":"md","type":"quantitative","scale":{"domain":[-0.0012,0.0253],"nice":false,"zero":false},"title":null},"color":{"field":"g","type":"nominal","scale":{"domain":["0ys","0.5ys","3ys","-"]},"legend":null}}},
{"data":{"name":"pts"},"transform":[{"filter":"datum.p=='P6'"}],"mark":{"type":"circle","size":50,"opacity":1},"encoding":{"y":{"field":"v","type":"quantitative","scale":{"domain":[-0.0012,0.0253],"nice":false,"zero":false},"title":null},"xOffset":{"field":"r","type":"ordinal","scale":{"type":"point","padding":4.85,"domain":[1,2,3,4,5,6,7,8,9,10,11,12]}},"color":{"field":"g","type":"nominal","scale":{"domain":["0ys","0.5ys","3ys","-"]},"legend":null}}},
{"data":{"values":[{}]},"mark":{"type":"text","align":"right","baseline":"middle","dx":25,"fontSize":13,"color":"#1A1A1A"},"encoding":{"x":{"datum":"3ys"},"y":{"datum":0.023,"type":"quantitative","scale":{"domain":[-0.0012,0.0253],"nice":false,"zero":false}},"text":{"value":"<0.001"}}},
{"data":{"values":[{}]},"mark":{"type":"text","align":"right","baseline":"middle","dx":-15,"fontSize":13,"fontStyle":"italic","color":"#1A1A1A"},"encoding":{"x":{"datum":"3ys"},"y":{"datum":0.023,"type":"quantitative","scale":{"domain":[-0.0012,0.0253],"nice":false,"zero":false}},"text":{"value":"p"}}}
]},
{"width":206,"height":184,"title":"thiosulfate_respiration","resolve":{"scale":{"xOffset":"independent"}},
"encoding":{"x":{"field":"g","type":"nominal","scale":{"domain":["0ys","0.5ys","3ys"],"paddingInner":0.25,"paddingOuter":0.225},"title":null}},
"layer":[
{"data":{"name":"box"},"transform":[{"filter":"datum.p=='P7'"}],"mark":{"type":"rule","strokeWidth":3},"encoding":{"y":{"field":"lo","type":"quantitative","scale":{"domain":[-0.0013,0.0272],"nice":false,"zero":false},"axis":{"values":[0,0.01,0.02],"format":".2f","labelOverlap":false,"tickCount":20},"title":null},"y2":{"field":"hi"},"color":{"field":"g","type":"nominal","scale":{"domain":["0ys","0.5ys","3ys","-"]},"legend":null}}},
{"data":{"name":"box"},"transform":[{"filter":"datum.p=='P7'"}],"mark":{"type":"bar","strokeWidth":3},"encoding":{"y":{"field":"q1","type":"quantitative","scale":{"domain":[-0.0013,0.0272],"nice":false,"zero":false},"title":null},"y2":{"field":"q3"},"fill":{"field":"g","type":"nominal","scale":{"domain":["0ys","0.5ys","3ys"],"range":["#5A5A5A","#67AA84","#DA925C"]},"title":"Monocropping period"},"stroke":{"field":"g","type":"nominal","scale":{"domain":["0ys","0.5ys","3ys"]},"title":"Monocropping period"}}},
{"data":{"name":"box"},"transform":[{"filter":"datum.p=='P7'"}],"mark":{"type":"tick","thickness":4},"encoding":{"y":{"field":"md","type":"quantitative","scale":{"domain":[-0.0013,0.0272],"nice":false,"zero":false},"title":null},"color":{"field":"g","type":"nominal","scale":{"domain":["0ys","0.5ys","3ys","-"]},"legend":null}}},
{"data":{"name":"pts"},"transform":[{"filter":"datum.p=='P7'"}],"mark":{"type":"circle","size":50,"opacity":1},"encoding":{"y":{"field":"v","type":"quantitative","scale":{"domain":[-0.0013,0.0272],"nice":false,"zero":false},"title":null},"xOffset":{"field":"r","type":"ordinal","scale":{"type":"point","padding":4.85,"domain":[1,2,3,4,5,6,7,8,9,10,11,12]}},"color":{"field":"g","type":"nominal","scale":{"domain":["0ys","0.5ys","3ys","-"]},"legend":null}}},
{"data":{"values":[{}]},"mark":{"type":"text","align":"right","baseline":"middle","dx":25,"fontSize":13,"color":"#1A1A1A"},"encoding":{"x":{"datum":"3ys"},"y":{"datum":0.0247,"type":"quantitative","scale":{"domain":[-0.0013,0.0272],"nice":false,"zero":false}},"text":{"value":"<0.001"}}},
{"data":{"values":[{}]},"mark":{"type":"text","align":"right","baseline":"middle","dx":-15,"fontSize":13,"fontStyle":"italic","color":"#1A1A1A"},"encoding":{"x":{"datum":"3ys"},"y":{"datum":0.0247,"type":"quantitative","scale":{"domain":[-0.0013,0.0272],"nice":false,"zero":false}},"text":{"value":"p"}}}
]},
{"width":220,"height":184,"title":{"text":"dark_oxidation_of_sulfur_compounds","offset":-1.5},"resolve":{"scale":{"xOffset":"independent"}},
"encoding":{"x":{"field":"g","type":"nominal","scale":{"domain":["0ys","0.5ys","3ys"],"paddingInner":0.25,"paddingOuter":0.225},"title":null}},
"layer":[
{"data":{"name":"box"},"transform":[{"filter":"datum.p=='P8'"}],"mark":{"type":"rule","strokeWidth":3},"encoding":{"y":{"field":"lo","type":"quantitative","scale":{"domain":[-0.04,1.53],"nice":false,"zero":false},"axis":{"values":[0,0.5,1,1.5],"format":".1f","labelOverlap":false,"tickCount":20},"title":null},"y2":{"field":"hi"},"color":{"field":"g","type":"nominal","scale":{"domain":["0ys","0.5ys","3ys","-"]},"legend":null}}},
{"data":{"name":"box"},"transform":[{"filter":"datum.p=='P8'"}],"mark":{"type":"bar","strokeWidth":3},"encoding":{"y":{"field":"q1","type":"quantitative","scale":{"domain":[-0.04,1.53],"nice":false,"zero":false},"title":null},"y2":{"field":"q3"},"fill":{"field":"g","type":"nominal","scale":{"domain":["0ys","0.5ys","3ys"],"range":["#5A5A5A","#67AA84","#DA925C"]},"title":"Monocropping period"},"stroke":{"field":"g","type":"nominal","scale":{"domain":["0ys","0.5ys","3ys"]},"title":"Monocropping period"}}},
{"data":{"name":"box"},"transform":[{"filter":"datum.p=='P8'"}],"mark":{"type":"tick","thickness":4},"encoding":{"y":{"field":"md","type":"quantitative","scale":{"domain":[-0.04,1.53],"nice":false,"zero":false},"title":null},"color":{"field":"g","type":"nominal","scale":{"domain":["0ys","0.5ys","3ys","-"]},"legend":null}}},
{"data":{"name":"pts"},"transform":[{"filter":"datum.p=='P8'"}],"mark":{"type":"circle","size":50,"opacity":1},"encoding":{"y":{"field":"v","type":"quantitative","scale":{"domain":[-0.04,1.53],"nice":false,"zero":false},"title":null},"xOffset":{"field":"r","type":"ordinal","scale":{"type":"point","padding":4.85,"domain":[1,2,3,4,5,6,7,8,9,10,11,12]}},"color":{"field":"g","type":"nominal","scale":{"domain":["0ys","0.5ys","3ys","-"]},"legend":null}}},
{"data":{"values":[{}]},"mark":{"type":"text","align":"right","baseline":"middle","dx":25,"fontSize":13,"color":"#1A1A1A"},"encoding":{"x":{"datum":"3ys"},"y":{"datum":1.393,"type":"quantitative","scale":{"domain":[-0.04,1.53],"nice":false,"zero":false}},"text":{"value":"=0.002"}}},
{"data":{"values":[{}]},"mark":{"type":"text","align":"right","baseline":"middle","dx":-15,"fontSize":13,"fontStyle":"italic","color":"#1A1A1A"},"encoding":{"x":{"datum":"3ys"},"y":{"datum":1.393,"type":"quantitative","scale":{"domain":[-0.04,1.53],"nice":false,"zero":false}},"text":{"value":"p"}}}
]},
{"width":208,"height":184,"title":"respiration_of_sulfur_compounds","resolve":{"scale":{"xOffset":"independent"}},
"encoding":{"x":{"field":"g","type":"nominal","scale":{"domain":["0ys","0.5ys","3ys"],"paddingInner":0.25,"paddingOuter":0.225},"title":null}},
"layer":[
{"data":{"name":"box"},"transform":[{"filter":"datum.p=='P9'"}],"mark":{"type":"rule","strokeWidth":3},"encoding":{"y":{"field":"lo","type":"quantitative","scale":{"domain":[-0.0013,0.0272],"nice":false,"zero":false},"axis":{"values":[0,0.01,0.02],"format":".2f","labelOverlap":false,"tickCount":20},"title":"Relative abundance(%)"},"y2":{"field":"hi"},"color":{"field":"g","type":"nominal","scale":{"domain":["0ys","0.5ys","3ys","-"]},"legend":null}}},
{"data":{"name":"box"},"transform":[{"filter":"datum.p=='P9'"}],"mark":{"type":"bar","strokeWidth":3},"encoding":{"y":{"field":"q1","type":"quantitative","scale":{"domain":[-0.0013,0.0272],"nice":false,"zero":false},"title":"Relative abundance(%)"},"y2":{"field":"q3"},"fill":{"field":"g","type":"nominal","scale":{"domain":["0ys","0.5ys","3ys"],"range":["#5A5A5A","#67AA84","#DA925C"]},"title":"Monocropping period"},"stroke":{"field":"g","type":"nominal","scale":{"domain":["0ys","0.5ys","3ys"]},"title":"Monocropping period"}}},
{"data":{"name":"box"},"transform":[{"filter":"datum.p=='P9'"}],"mark":{"type":"tick","thickness":4},"encoding":{"y":{"field":"md","type":"quantitative","scale":{"domain":[-0.0013,0.0272],"nice":false,"zero":false},"title":"Relative abundance(%)"},"color":{"field":"g","type":"nominal","scale":{"domain":["0ys","0.5ys","3ys","-"]},"legend":null}}},
{"data":{"name":"pts"},"transform":[{"filter":"datum.p=='P9'"}],"mark":{"type":"circle","size":50,"opacity":1},"encoding":{"y":{"field":"v","type":"quantitative","scale":{"domain":[-0.0013,0.0272],"nice":false,"zero":false},"title":"Relative abundance(%)"},"xOffset":{"field":"r","type":"ordinal","scale":{"type":"point","padding":4.85,"domain":[1,2,3,4,5,6,7,8,9,10,11,12]}},"color":{"field":"g","type":"nominal","scale":{"domain":["0ys","0.5ys","3ys","-"]},"legend":null}}},
{"data":{"values":[{}]},"mark":{"type":"text","align":"right","baseline":"middle","dx":25,"fontSize":13,"color":"#1A1A1A"},"encoding":{"x":{"datum":"3ys"},"y":{"datum":0.0247,"type":"quantitative","scale":{"domain":[-0.0013,0.0272],"nice":false,"zero":false}},"text":{"value":"<0.001"}}},
{"data":{"values":[{}]},"mark":{"type":"text","align":"right","baseline":"middle","dx":-15,"fontSize":13,"fontStyle":"italic","color":"#1A1A1A"},"encoding":{"x":{"datum":"3ys"},"y":{"datum":0.0247,"type":"quantitative","scale":{"domain":[-0.0013,0.0272],"nice":false,"zero":false}},"text":{"value":"p"}}}
]},
{"width":208,"height":184,"title":"dark_sulfide_oxidation","resolve":{"scale":{"xOffset":"independent"}},
"encoding":{"x":{"field":"g","type":"nominal","scale":{"domain":["0ys","0.5ys","3ys"],"paddingInner":0.25,"paddingOuter":0.225},"title":null}},
"layer":[
{"data":{"name":"box"},"transform":[{"filter":"datum.p=='P10'"}],"mark":{"type":"rule","strokeWidth":3},"encoding":{"y":{"field":"lo","type":"quantitative","scale":{"domain":[-0.07,1.467],"nice":false,"zero":false},"axis":{"values":[0,0.5,1],"format":".1f","labelOverlap":false,"tickCount":20},"title":null},"y2":{"field":"hi"},"color":{"field":"g","type":"nominal","scale":{"domain":["0ys","0.5ys","3ys","-"]},"legend":null}}},
{"data":{"name":"box"},"transform":[{"filter":"datum.p=='P10'"}],"mark":{"type":"bar","strokeWidth":3},"encoding":{"y":{"field":"q1","type":"quantitative","scale":{"domain":[-0.07,1.467],"nice":false,"zero":false},"title":null},"y2":{"field":"q3"},"fill":{"field":"g","type":"nominal","scale":{"domain":["0ys","0.5ys","3ys"],"range":["#5A5A5A","#67AA84","#DA925C"]},"title":"Monocropping period"},"stroke":{"field":"g","type":"nominal","scale":{"domain":["0ys","0.5ys","3ys"]},"title":"Monocropping period"}}},
{"data":{"name":"box"},"transform":[{"filter":"datum.p=='P10'"}],"mark":{"type":"tick","thickness":4},"encoding":{"y":{"field":"md","type":"quantitative","scale":{"domain":[-0.07,1.467],"nice":false,"zero":false},"title":null},"color":{"field":"g","type":"nominal","scale":{"domain":["0ys","0.5ys","3ys","-"]},"legend":null}}},
{"data":{"name":"pts"},"transform":[{"filter":"datum.p=='P10'"}],"mark":{"type":"circle","size":50,"opacity":1},"encoding":{"y":{"field":"v","type":"quantitative","scale":{"domain":[-0.07,1.467],"nice":false,"zero":false},"title":null},"xOffset":{"field":"r","type":"ordinal","scale":{"type":"point","padding":4.85,"domain":[1,2,3,4,5,6,7,8,9,10,11,12]}},"color":{"field":"g","type":"nominal","scale":{"domain":["0ys","0.5ys","3ys","-"]},"legend":null}}},
{"data":{"values":[{}]},"mark":{"type":"text","align":"right","baseline":"middle","dx":25,"fontSize":13,"color":"#1A1A1A"},"encoding":{"x":{"datum":"3ys"},"y":{"datum":1.333,"type":"quantitative","scale":{"domain":[-0.07,1.467],"nice":false,"zero":false}},"text":{"value":"=0.001"}}},
{"data":{"values":[{}]},"mark":{"type":"text","align":"right","baseline":"middle","dx":-15,"fontSize":13,"fontStyle":"italic","color":"#1A1A1A"},"encoding":{"x":{"datum":"3ys"},"y":{"datum":1.333,"type":"quantitative","scale":{"domain":[-0.07,1.467],"nice":false,"zero":false}},"text":{"value":"p"}}}
]},
{"width":206,"height":184,"title":"chitinolysis","resolve":{"scale":{"xOffset":"independent"}},
"encoding":{"x":{"field":"g","type":"nominal","scale":{"domain":["0ys","0.5ys","3ys"],"paddingInner":0.25,"paddingOuter":0.225},"title":null}},
"layer":[
{"data":{"name":"box"},"transform":[{"filter":"datum.p=='P11'"}],"mark":{"type":"rule","strokeWidth":3},"encoding":{"y":{"field":"lo","type":"quantitative","scale":{"domain":[0.152,1.955],"nice":false,"zero":false},"axis":{"values":[0.5,1,1.5],"format":".1f","labelOverlap":false,"tickCount":20},"title":null},"y2":{"field":"hi"},"color":{"field":"g","type":"nominal","scale":{"domain":["0ys","0.5ys","3ys","-"]},"legend":null}}},
{"data":{"name":"box"},"transform":[{"filter":"datum.p=='P11'"}],"mark":{"type":"bar","strokeWidth":3},"encoding":{"y":{"field":"q1","type":"quantitative","scale":{"domain":[0.152,1.955],"nice":false,"zero":false},"title":null},"y2":{"field":"q3"},"fill":{"field":"g","type":"nominal","scale":{"domain":["0ys","0.5ys","3ys"],"range":["#5A5A5A","#67AA84","#DA925C"]},"title":"Monocropping period"},"stroke":{"field":"g","type":"nominal","scale":{"domain":["0ys","0.5ys","3ys"]},"title":"Monocropping period"}}},
{"data":{"name":"box"},"transform":[{"filter":"datum.p=='P11'"}],"mark":{"type":"tick","thickness":4},"encoding":{"y":{"field":"md","type":"quantitative","scale":{"domain":[0.152,1.955],"nice":false,"zero":false},"title":null},"color":{"field":"g","type":"nominal","scale":{"domain":["0ys","0.5ys","3ys","-"]},"legend":null}}},
{"data":{"name":"pts"},"transform":[{"filter":"datum.p=='P11'"}],"mark":{"type":"circle","size":50,"opacity":1},"encoding":{"y":{"field":"v","type":"quantitative","scale":{"domain":[0.152,1.955],"nice":false,"zero":false},"title":null},"xOffset":{"field":"r","type":"ordinal","scale":{"type":"point","padding":4.85,"domain":[1,2,3,4,5,6,7,8,9,10,11,12]}},"color":{"field":"g","type":"nominal","scale":{"domain":["0ys","0.5ys","3ys","-"]},"legend":null}}},
{"data":{"values":[{}]},"mark":{"type":"text","align":"right","baseline":"middle","dx":25,"fontSize":13,"color":"#1A1A1A"},"encoding":{"x":{"datum":"3ys"},"y":{"datum":1.798,"type":"quantitative","scale":{"domain":[0.152,1.955],"nice":false,"zero":false}},"text":{"value":"<0.001"}}},
{"data":{"values":[{}]},"mark":{"type":"text","align":"right","baseline":"middle","dx":-15,"fontSize":13,"fontStyle":"italic","color":"#1A1A1A"},"encoding":{"x":{"datum":"3ys"},"y":{"datum":1.798,"type":"quantitative","scale":{"domain":[0.152,1.955],"nice":false,"zero":false}},"text":{"value":"p"}}}
]}
]
},
{
"title":{"text":"B","subtitle":"\u200b\u00a0\u00a0\u00a0\u00a0\u00a0\u00a0ITS plant pathogen guilds","anchor":"start","dx":-37,"offset":13,"font":"Liberation Sans","fontSize":20,"fontWeight":"bold","color":"#000000","subtitleFont":"Liberation Serif","subtitleFontSize":28,"subtitleFontWeight":"bold","subtitleColor":"#000000","subtitlePadding":-24},
"columns":4,"bounds":"flush","align":"each","spacing":{"row":70,"column":56},
"concat":[
{"width":220,"height":184,"title":"Guild：Plant Pathogen A","resolve":{"scale":{"xOffset":"independent"}},
"encoding":{"x":{"field":"g","type":"nominal","scale":{"domain":["0ys","0.5ys","3ys"],"paddingInner":0.25,"paddingOuter":0.225},"title":null}},
"layer":[
{"data":{"name":"box"},"transform":[{"filter":"datum.p=='P12'"}],"mark":{"type":"rule","strokeWidth":3},"encoding":{"y":{"field":"lo","type":"quantitative","scale":{"domain":[-0.158,3.32],"nice":false,"zero":false},"axis":{"values":[0,1,2,3],"format":"d","titlePadding":31,"labelOverlap":false,"tickCount":20},"title":"Relative abundance(%)"},"y2":{"field":"hi"},"color":{"field":"g","type":"nominal","scale":{"domain":["0ys","0.5ys","3ys","-"]},"legend":null}}},
{"data":{"name":"box"},"transform":[{"filter":"datum.p=='P12'"}],"mark":{"type":"bar","strokeWidth":3},"encoding":{"y":{"field":"q1","type":"quantitative","scale":{"domain":[-0.158,3.32],"nice":false,"zero":false},"title":"Relative abundance(%)"},"y2":{"field":"q3"},"fill":{"field":"g","type":"nominal","scale":{"domain":["0ys","0.5ys","3ys"],"range":["#5A5A5A","#67AA84","#DA925C"]},"title":"Monocropping period"},"stroke":{"field":"g","type":"nominal","scale":{"domain":["0ys","0.5ys","3ys"]},"title":"Monocropping period"}}},
{"data":{"name":"box"},"transform":[{"filter":"datum.p=='P12'"}],"mark":{"type":"tick","thickness":4},"encoding":{"y":{"field":"md","type":"quantitative","scale":{"domain":[-0.158,3.32],"nice":false,"zero":false},"title":"Relative abundance(%)"},"color":{"field":"g","type":"nominal","scale":{"domain":["0ys","0.5ys","3ys","-"]},"legend":null}}},
{"data":{"name":"pts"},"transform":[{"filter":"datum.p=='P12'"}],"mark":{"type":"circle","size":55,"opacity":1},"encoding":{"y":{"field":"v","type":"quantitative","scale":{"domain":[-0.158,3.32],"nice":false,"zero":false},"title":"Relative abundance(%)"},"xOffset":{"field":"r","type":"ordinal","scale":{"type":"point","padding":4.85,"domain":[1,2,3,4,5,6,7,8,9,10,11,12]}},"color":{"field":"g","type":"nominal","scale":{"domain":["0ys","0.5ys","3ys","-"]},"legend":null}}},
{"data":{"values":[{}]},"mark":{"type":"text","align":"right","baseline":"middle","dx":-16,"fontSize":13,"color":"#1A1A1A"},"encoding":{"x":{"datum":"3ys"},"y":{"datum":3.093,"type":"quantitative","scale":{"domain":[-0.158,3.32],"nice":false,"zero":false}},"text":{"value":"<0.001"}}},
{"data":{"values":[{}]},"mark":{"type":"text","align":"right","baseline":"middle","dx":-56,"fontSize":13,"fontStyle":"italic","color":"#1A1A1A"},"encoding":{"x":{"datum":"3ys"},"y":{"datum":3.093,"type":"quantitative","scale":{"domain":[-0.158,3.32],"nice":false,"zero":false}},"text":{"value":"p"}}}
]},
{"width":234,"height":184,"title":"Guild：Plant Pathogen B","resolve":{"scale":{"xOffset":"independent"}},
"encoding":{"x":{"field":"g","type":"nominal","scale":{"domain":["0ys","0.5ys","3ys"],"paddingInner":0.25,"paddingOuter":0.225},"title":null}},
"layer":[
{"data":{"name":"box"},"transform":[{"filter":"datum.p=='P13'"}],"mark":{"type":"rule","strokeWidth":3},"encoding":{"y":{"field":"lo","type":"quantitative","scale":{"domain":[-0.2,4.23],"nice":false,"zero":false},"axis":{"values":[0,1,2,3,4],"format":"d","labelOverlap":false,"tickCount":20},"title":null},"y2":{"field":"hi"},"color":{"field":"g","type":"nominal","scale":{"domain":["0ys","0.5ys","3ys","-"]},"legend":null}}},
{"data":{"name":"box"},"transform":[{"filter":"datum.p=='P13'"}],"mark":{"type":"bar","strokeWidth":3},"encoding":{"y":{"field":"q1","type":"quantitative","scale":{"domain":[-0.2,4.23],"nice":false,"zero":false},"title":null},"y2":{"field":"q3"},"fill":{"field":"g","type":"nominal","scale":{"domain":["0ys","0.5ys","3ys"],"range":["#5A5A5A","#67AA84","#DA925C"]},"title":"Monocropping period"},"stroke":{"field":"g","type":"nominal","scale":{"domain":["0ys","0.5ys","3ys"]},"title":"Monocropping period"}}},
{"data":{"name":"box"},"transform":[{"filter":"datum.p=='P13'"}],"mark":{"type":"tick","thickness":4},"encoding":{"y":{"field":"md","type":"quantitative","scale":{"domain":[-0.2,4.23],"nice":false,"zero":false},"title":null},"color":{"field":"g","type":"nominal","scale":{"domain":["0ys","0.5ys","3ys","-"]},"legend":null}}},
{"data":{"name":"pts"},"transform":[{"filter":"datum.p=='P13'"}],"mark":{"type":"circle","size":55,"opacity":1},"encoding":{"y":{"field":"v","type":"quantitative","scale":{"domain":[-0.2,4.23],"nice":false,"zero":false},"title":null},"xOffset":{"field":"r","type":"ordinal","scale":{"type":"point","padding":4.85,"domain":[1,2,3,4,5,6,7,8,9,10,11,12]}},"color":{"field":"g","type":"nominal","scale":{"domain":["0ys","0.5ys","3ys","-"]},"legend":null}}},
{"data":{"values":[{}]},"mark":{"type":"text","align":"right","baseline":"middle","dx":-25,"fontSize":13,"color":"#1A1A1A"},"encoding":{"x":{"datum":"3ys"},"y":{"datum":3.941,"type":"quantitative","scale":{"domain":[-0.2,4.23],"nice":false,"zero":false}},"text":{"value":"<0.001"}}},
{"data":{"values":[{}]},"mark":{"type":"text","align":"right","baseline":"middle","dx":-65,"fontSize":13,"fontStyle":"italic","color":"#1A1A1A"},"encoding":{"x":{"datum":"3ys"},"y":{"datum":3.941,"type":"quantitative","scale":{"domain":[-0.2,4.23],"nice":false,"zero":false}},"text":{"value":"p"}}}
]},
{"width":234,"height":184,"title":"Guild：Plant Pathogen C","resolve":{"scale":{"xOffset":"independent"}},
"encoding":{"x":{"field":"g","type":"nominal","scale":{"domain":["0ys","0.5ys","3ys"],"paddingInner":0.25,"paddingOuter":0.225},"title":null}},
"layer":[
{"data":{"name":"box"},"transform":[{"filter":"datum.p=='P14'"}],"mark":{"type":"rule","strokeWidth":3},"encoding":{"y":{"field":"lo","type":"quantitative","scale":{"domain":[-0.29,7.68],"nice":false,"zero":false},"axis":{"values":[0,2,4,6],"format":"d","labelOverlap":false,"tickCount":20},"title":null},"y2":{"field":"hi"},"color":{"field":"g","type":"nominal","scale":{"domain":["0ys","0.5ys","3ys","-"]},"legend":null}}},
{"data":{"name":"box"},"transform":[{"filter":"datum.p=='P14'"}],"mark":{"type":"bar","strokeWidth":3},"encoding":{"y":{"field":"q1","type":"quantitative","scale":{"domain":[-0.29,7.68],"nice":false,"zero":false},"title":null},"y2":{"field":"q3"},"fill":{"field":"g","type":"nominal","scale":{"domain":["0ys","0.5ys","3ys"],"range":["#5A5A5A","#67AA84","#DA925C"]},"title":"Monocropping period"},"stroke":{"field":"g","type":"nominal","scale":{"domain":["0ys","0.5ys","3ys"]},"title":"Monocropping period"}}},
{"data":{"name":"box"},"transform":[{"filter":"datum.p=='P14'"}],"mark":{"type":"tick","thickness":4},"encoding":{"y":{"field":"md","type":"quantitative","scale":{"domain":[-0.29,7.68],"nice":false,"zero":false},"title":null},"color":{"field":"g","type":"nominal","scale":{"domain":["0ys","0.5ys","3ys","-"]},"legend":null}}},
{"data":{"name":"pts"},"transform":[{"filter":"datum.p=='P14'"}],"mark":{"type":"circle","size":55,"opacity":1},"encoding":{"y":{"field":"v","type":"quantitative","scale":{"domain":[-0.29,7.68],"nice":false,"zero":false},"title":null},"xOffset":{"field":"r","type":"ordinal","scale":{"type":"point","padding":4.85,"domain":[1,2,3,4,5,6,7,8,9,10,11,12]}},"color":{"field":"g","type":"nominal","scale":{"domain":["0ys","0.5ys","3ys","-"]},"legend":null}}},
{"data":{"values":[{}]},"mark":{"type":"text","align":"right","baseline":"middle","dx":-12,"fontSize":13,"color":"#1A1A1A"},"encoding":{"x":{"datum":"3ys"},"y":{"datum":7.16,"type":"quantitative","scale":{"domain":[-0.29,7.68],"nice":false,"zero":false}},"text":{"value":"=0.006"}}},
{"data":{"values":[{}]},"mark":{"type":"text","align":"right","baseline":"middle","dx":-52,"fontSize":13,"fontStyle":"italic","color":"#1A1A1A"},"encoding":{"x":{"datum":"3ys"},"y":{"datum":7.16,"type":"quantitative","scale":{"domain":[-0.29,7.68],"nice":false,"zero":false}},"text":{"value":"p"}}}
]},
{"width":224,"height":184,"title":"Guild：Plant Pathogen D","resolve":{"scale":{"xOffset":"independent"}},
"encoding":{"x":{"field":"g","type":"nominal","scale":{"domain":["0ys","0.5ys","3ys"],"paddingInner":0.25,"paddingOuter":0.225},"title":null}},
"layer":[
{"data":{"name":"box"},"transform":[{"filter":"datum.p=='P15'"}],"mark":{"type":"rule","strokeWidth":3},"encoding":{"y":{"field":"lo","type":"quantitative","scale":{"domain":[-2.56,53.9],"nice":false,"zero":false},"axis":{"values":[0,10,20,30,40,50],"format":"d","labelOverlap":false,"tickCount":20},"title":null},"y2":{"field":"hi"},"color":{"field":"g","type":"nominal","scale":{"domain":["0ys","0.5ys","3ys","-"]},"legend":null}}},
{"data":{"name":"box"},"transform":[{"filter":"datum.p=='P15'"}],"mark":{"type":"bar","strokeWidth":3},"encoding":{"y":{"field":"q1","type":"quantitative","scale":{"domain":[-2.56,53.9],"nice":false,"zero":false},"title":null},"y2":{"field":"q3"},"fill":{"field":"g","type":"nominal","scale":{"domain":["0ys","0.5ys","3ys"],"range":["#5A5A5A","#67AA84","#DA925C"]},"title":"Monocropping period"},"stroke":{"field":"g","type":"nominal","scale":{"domain":["0ys","0.5ys","3ys"]},"title":"Monocropping period"}}},
{"data":{"name":"box"},"transform":[{"filter":"datum.p=='P15'"}],"mark":{"type":"tick","thickness":4},"encoding":{"y":{"field":"md","type":"quantitative","scale":{"domain":[-2.56,53.9],"nice":false,"zero":false},"title":null},"color":{"field":"g","type":"nominal","scale":{"domain":["0ys","0.5ys","3ys","-"]},"legend":null}}},
{"data":{"name":"pts"},"transform":[{"filter":"datum.p=='P15'"}],"mark":{"type":"circle","size":55,"opacity":1},"encoding":{"y":{"field":"v","type":"quantitative","scale":{"domain":[-2.56,53.9],"nice":false,"zero":false},"title":null},"xOffset":{"field":"r","type":"ordinal","scale":{"type":"point","padding":4.85,"domain":[1,2,3,4,5,6,7,8,9,10,11,12]}},"color":{"field":"g","type":"nominal","scale":{"domain":["0ys","0.5ys","3ys","-"]},"legend":null}}},
{"data":{"values":[{}]},"mark":{"type":"text","align":"right","baseline":"middle","dx":-29,"fontSize":13,"color":"#1A1A1A"},"encoding":{"x":{"datum":"3ys"},"y":{"datum":50.22,"type":"quantitative","scale":{"domain":[-2.56,53.9],"nice":false,"zero":false}},"text":{"value":"<0.001"}}},
{"data":{"values":[{}]},"mark":{"type":"text","align":"right","baseline":"middle","dx":-69,"fontSize":13,"fontStyle":"italic","color":"#1A1A1A"},"encoding":{"x":{"datum":"3ys"},"y":{"datum":50.22,"type":"quantitative","scale":{"domain":[-2.56,53.9],"nice":false,"zero":false}},"text":{"value":"p"}}}
]}
]
}
],
"columns":1,"align":"none","spacing":24,
"config":{
"font":"Liberation Sans",
"view":{"fill":"#EEF3EE","stroke":"#4D4D4D","strokeWidth":1.2},
"range":{"category":["#1A1A1A","#2E8B57","#D2691E"]},
"axis":{"domain":false,"grid":false,"labelOverlap":false,"tickColor":"#333333","tickSize":5,"tickWidth":1.3,"labelFontSize":18,"labelColor":"#1A1A1A","labelFont":"Liberation Sans","titleFont":"Liberation Sans","titleFontSize":16,"titleFontWeight":"normal","titleColor":"#1A1A1A","labelPadding":3,"titlePadding":3},
"axisX":{"labelAngle":0},
"title":{"font":"Liberation Sans","fontSize":17,"fontWeight":"normal","color":"#1A1A1A","offset":4},
"legend":{"orient":"none","legendX":856,"legendY":557,"titleFontSize":16,"titleFontWeight":"normal","titleColor":"#1A1A1A","titleFont":"Liberation Sans","labelFont":"Liberation Sans","labelFontSize":16,"labelColor":"#1A1A1A","symbolType":"M-1,-0.62H1V0.62H-1Z M-0.1,-1H0.1V-0.62H-0.1Z M-0.1,0.62H0.1V1H-0.1Z","symbolSize":420,"symbolStrokeWidth":2,"rowPadding":0,"titlePadding":8,"labelOffset":10}
}
}
